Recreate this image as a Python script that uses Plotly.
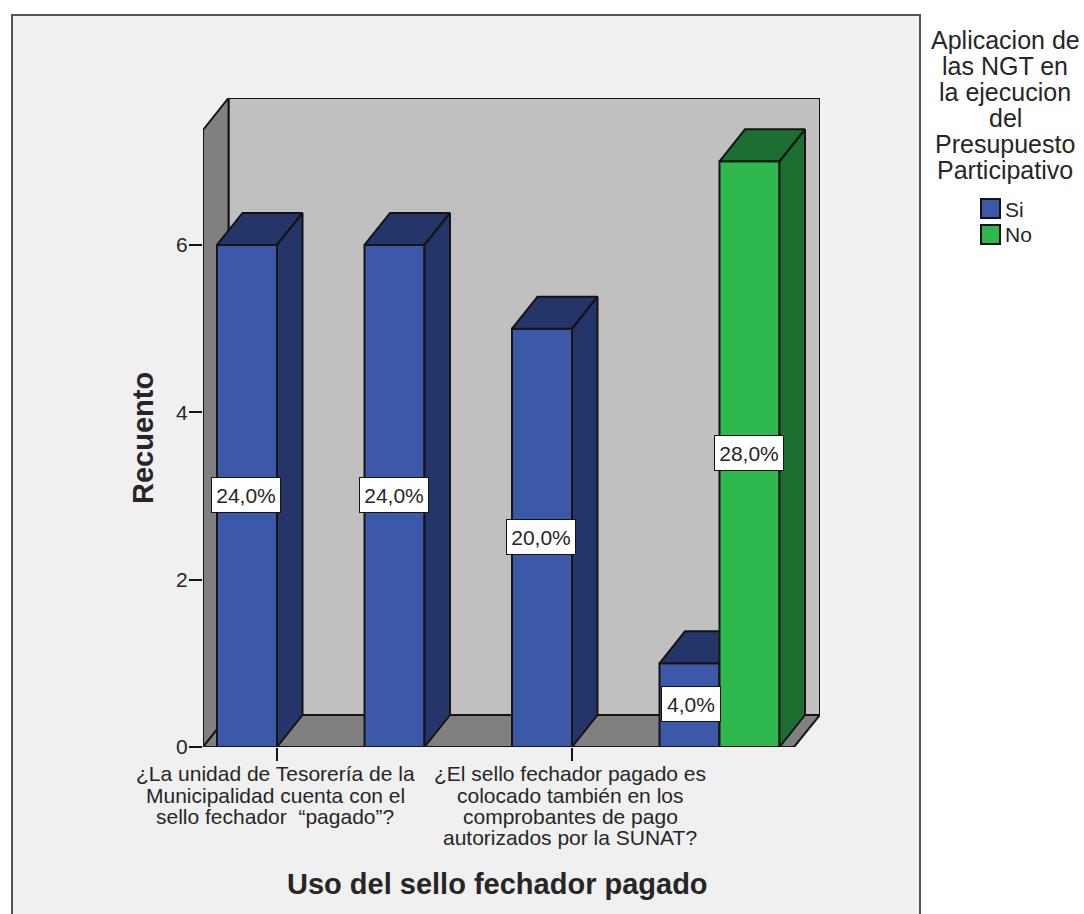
import plotly.graph_objects as go

# Counts per answer and the share of all respondents printed on each bar
positions = [0, 1, 2, 3]
si_counts = [6, 6, 5, 1]
no_counts = [None, None, None, 7]
si_labels = ["24,0%", "24,0%", "20,0%", "4,0%"]
no_labels = [None, None, None, "28,0%"]
y_ticks = [0, 2, 4, 6]

question_ticks = [0, 2]
question_lines = [
    ["¿La unidad de Tesorería de la", "Municipalidad cuenta con el", "sello fechador  “pagado”?"],
    ["¿El sello fechador pagado es", "colocado también en los", "comprobantes de pago", "autorizados por la SUNAT?"],
]
legend_title_lines = ["Aplicacion de", "las NGT en", "la ejecucion", "del", "Presupuesto", "Participativo"]
series_names = ["Si", "No"]

# Plot box on the page, in pixels
W, H = 1084, 914
LEFT, RIGHT, TOP, BOTTOM = 203, 820, 98, 747
PX_PER_COUNT = 83.67
PX_PER_CATEGORY = 147.5
CATEGORY_ZERO_PX = 277

X_RANGE = [(LEFT - CATEGORY_ZERO_PX) / PX_PER_CATEGORY, (RIGHT - CATEGORY_ZERO_PX) / PX_PER_CATEGORY]
Y_RANGE = [0, (BOTTOM - TOP) / PX_PER_COUNT]

# Oblique depth of the pseudo-3D box, in axis units
DEPTH_X = 25.5 / PX_PER_CATEGORY
DEPTH_Y = 32 / PX_PER_COUNT
BAR_WIDTH = 60 / PX_PER_CATEGORY

FONT = "Liberation Sans"
TEXT = "#262626"
EDGE = "#141414"
SI_FRONT, SI_DARK = "#3c58a9", "#233569"
NO_FRONT, NO_DARK = "#2fb84d", "#1d6f31"
WALL, FLANK = "#c0c0c0", "#808080"


def page_x(px):
    return (px - LEFT) / (RIGHT - LEFT)


def page_y(py):
    return (BOTTOM - py) / (BOTTOM - TOP)


def polygons(shapes):
    xs, ys = [], []
    for shape in shapes:
        xs += [p[0] for p in shape] + [shape[0][0], None]
        ys += [p[1] for p in shape] + [shape[0][1], None]
    return xs, ys


def wall_trace(shape, color):
    xs, ys = polygons([shape])
    return go.Scatter(x=xs, y=ys, mode="lines", fill="toself", fillcolor=color,
                      line=dict(color=EDGE, width=2), cliponaxis=False,
                      hoverinfo="skip", showlegend=False)


def depth_trace(positions_, counts, offset, color, xaxis, yaxis):
    faces = []
    for pos, count in zip(positions_, counts):
        if count is None:
            continue
        x0, x1 = pos + offset, pos + offset + BAR_WIDTH
        faces.append([(x0, count), (x0 + DEPTH_X, count + DEPTH_Y),
                      (x1 + DEPTH_X, count + DEPTH_Y), (x1, count)])
        faces.append([(x1, count), (x1 + DEPTH_X, count + DEPTH_Y),
                      (x1 + DEPTH_X, DEPTH_Y), (x1, 0)])
    xs, ys = polygons(faces)
    return go.Scatter(x=xs, y=ys, mode="lines", fill="toself", fillcolor=color,
                      line=dict(color=EDGE, width=2), cliponaxis=False,
                      hoverinfo="skip", showlegend=False, xaxis=xaxis, yaxis=yaxis)


def front_trace(name, counts, offset, color, xaxis, yaxis):
    return go.Bar(x=positions, y=counts, name=name, width=BAR_WIDTH, offset=offset,
                  marker=dict(color=color, line=dict(color=EDGE, width=2)),
                  cliponaxis=False, showlegend=False, xaxis=xaxis, yaxis=yaxis)


floor_end = (794 - CATEGORY_ZERO_PX) / PX_PER_CATEGORY
x0, ytop = X_RANGE[0], Y_RANGE[1]

fig = go.Figure()

# Box: back wall, left flank and floor
fig.add_trace(wall_trace([(x0 + DEPTH_X, DEPTH_Y), (x0 + DEPTH_X, ytop), (X_RANGE[1], ytop), (X_RANGE[1], DEPTH_Y)], WALL))
fig.add_trace(wall_trace([(x0, 0), (x0, ytop - DEPTH_Y), (x0 + DEPTH_X, ytop), (x0 + DEPTH_X, DEPTH_Y)], FLANK))
fig.add_trace(wall_trace([(x0, 0), (x0 + DEPTH_X, DEPTH_Y), (X_RANGE[1], DEPTH_Y), (floor_end, 0)], FLANK))

# "Si" bars first, "No" bars on a later overlay so they hide what is behind them
fig.add_trace(front_trace(series_names[0], si_counts, -BAR_WIDTH, SI_FRONT, "x2", "y2"))
fig.add_trace(depth_trace(positions, si_counts, -BAR_WIDTH, SI_DARK, "x2", "y2"))
fig.add_trace(front_trace(series_names[1], no_counts, 0, NO_FRONT, "x3", "y3"))
fig.add_trace(depth_trace(positions, no_counts, 0, NO_DARK, "x3", "y3"))

annotations = []


def note(text, **kw):
    kw.setdefault("showarrow", False)
    kw.setdefault("xanchor", "center")
    kw.setdefault("yanchor", "middle")
    font = kw.pop("font", {})
    annotations.append(dict(text=text, font=dict(family=FONT, color=TEXT, **font), **kw))


def value_label(label, x, y):
    short = len(label) < 5
    note(label, x=x, y=y, xref="x", yref="y", xshift=1 if short else -1, yshift=1,
         bgcolor="white", bordercolor=EDGE, borderwidth=1,
         width=56 if short else 66, height=32, font=dict(size=21))


# Percentages on the bars
for pos, count, label in zip(positions, si_counts, si_labels):
    value_label(label, pos - BAR_WIDTH / 2, count / 2)
for pos, count, label in zip(positions, no_counts, no_labels):
    if count is not None:
        value_label(label, pos + BAR_WIDTH / 2, count / 2)

# Wrapped category labels, tighter than the default line spacing
LINE_CENTRES = [773, 795, 816, 837]
for tick, lines in zip(question_ticks, question_lines):
    for line, centre in zip(lines, LINE_CENTRES):
        note(line, x=tick, y=0, xref="x", yref="y", xshift=-2, yshift=BOTTOM - centre,
             font=dict(size=21))

note("<b>Uso del sello fechador pagado</b>", x=page_x(497), y=page_y(884), xref="paper", yref="paper",
     font=dict(size=29))
note("<b>Recuento</b>", x=page_x(143), y=page_y(438), xref="paper", yref="paper", textangle=-90,
     font=dict(size=29))

# Legend block at the right of the frame
LEGEND_Y = [40, 66, 92, 118, 144, 170]
for line, centre in zip(legend_title_lines, LEGEND_Y):
    note(line, x=page_x(1005), y=page_y(centre), xref="paper", yref="paper", font=dict(size=25))
note(series_names[0], x=page_x(1003), y=page_y(209), xref="paper", yref="paper", xanchor="left", font=dict(size=21))
note(series_names[1], x=page_x(1003), y=page_y(235), xref="paper", yref="paper", xanchor="left", font=dict(size=21))

shapes = [
    dict(type="rect", xref="paper", yref="paper", layer="below",
         x0=page_x(12), x1=page_x(920), y0=page_y(930), y1=page_y(15),
         fillcolor="#f0f0f0", line=dict(color="#555555", width=2)),
]
for swatch_top, color in zip([199, 225], [SI_FRONT, NO_FRONT]):
    shapes.append(dict(type="rect", xref="paper", yref="paper",
                       x0=page_x(981), x1=page_x(1000), y0=page_y(swatch_top + 19), y1=page_y(swatch_top),
                       fillcolor=color, line=dict(color=EDGE, width=2)))

hidden = dict(visible=False, range=X_RANGE, fixedrange=True)
hidden_y = dict(visible=False, range=Y_RANGE, fixedrange=True)

fig.update_layout(
    width=W, height=H,
    margin=dict(l=LEFT, r=W - RIGHT, t=TOP, b=H - BOTTOM, pad=0),
    paper_bgcolor="white", plot_bgcolor="rgba(0,0,0,0)",
    barmode="overlay", showlegend=False,
    font=dict(family=FONT, color=TEXT),
    annotations=annotations, shapes=shapes,
    xaxis=dict(range=X_RANGE, tickmode="array", tickvals=question_ticks, ticktext=["", ""],
               ticks="outside", ticklen=13, tickwidth=2, tickcolor=EDGE,
               showgrid=False, zeroline=False, showline=False, fixedrange=True),
    yaxis=dict(range=Y_RANGE, tickmode="array", tickvals=y_ticks,
               ticktext=[str(v) for v in y_ticks], tickfont=dict(size=21, color=TEXT),
               ticks="outside", ticklen=13, tickwidth=2, tickcolor=EDGE, ticklabelstandoff=-3,
               showgrid=False, zeroline=False, showline=False, fixedrange=True),
    xaxis2=dict(overlaying="x", anchor="y2", **hidden),
    yaxis2=dict(overlaying="y", anchor="x2", **hidden_y),
    xaxis3=dict(overlaying="x", anchor="y3", **hidden),
    yaxis3=dict(overlaying="y", anchor="x3", **hidden_y),
)

fig.write_html("out.html", config=dict(displayModeBar=False))
